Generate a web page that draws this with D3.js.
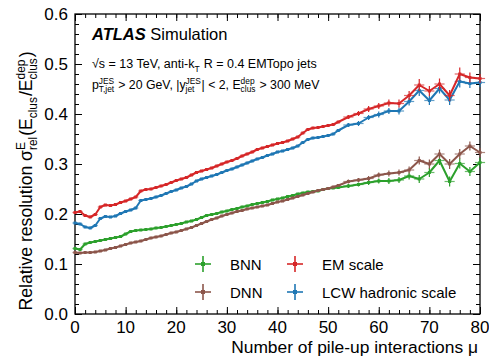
<!DOCTYPE html>
<html>
<head>
<meta charset="utf-8">
<script src="https://cdn.jsdelivr.net/npm/d3@7"></script>
<style>
  body { margin: 0; background: #fff; }
  svg text { font-family: "Liberation Sans", Arial, sans-serif; fill: #000; white-space: pre; }
</style>
</head>
<body>
<svg id="chart"></svg>
<script>
(function(){
    "use strict";

    // pile-up bins (1 wide up to 52, then 2 wide)
    var mu = [0,1,2,3,4,5,6,7,8,9,10,11,12,13,14,15,16,17,18,19,20,21,22,23,24,25,26,
        27,28,29,30,31,32,33,34,35,36,37,38,39,40,41,42,43,44,45,46,47,48,49,50,51,52,
        54,56,58,60,62,64,66,68,70,72,74,76,78,80];

    var emScale = [.203,.205,.197,.194,.199,.214,.218,.217,.219,.223,.226,.230,.234,.246,.249,.250,.253,.256,.259,.263,.267,.270,.273,.278,.283,.286,.289,
        .292,.296,.300,.304,.307,.311,.316,.320,.324,.329,.332,.335,.338,.341,.343,.346,.350,.354,.362,.369,.372,.373,.375,.377,.379,.384,
        .394,.401,.410,.416,.422,.421,.437,.458,.446,.460,.437,.480,.473,.471];

    var lcwScale = [.182,.180,.174,.172,.177,.191,.195,.194,.196,.201,.205,.208,.212,.227,.229,.231,.234,.237,.241,.245,.248,.252,.255,.260,.266,.270,.273,
        .276,.279,.283,.287,.290,.294,.298,.302,.306,.310,.313,.317,.320,.324,.326,.329,.332,.336,.343,.349,.352,.353,.355,.357,.360,.367,
        .378,.381,.393,.399,.406,.406,.425,.447,.427,.451,.428,.465,.461,.463];

    var bnn = [.131,.129,.140,.143,.145,.147,.149,.151,.153,.155,.160,.165,.167,.168,.169,.170,.172,.173,.175,.177,.179,.181,.184,.186,.189,.193,.197,
        .199,.201,.204,.206,.209,.211,.214,.216,.219,.221,.223,.225,.228,.230,.232,.235,.237,.240,.242,.244,.245,.246,.249,.251,.252,.253,
        .256,.259,.263,.266,.266,.268,.276,.270,.283,.307,.265,.301,.285,.303];

    var dnn = [.123,.122,.123,.123,.124,.126,.128,.131,.133,.136,.139,.142,.144,.146,.149,.152,.154,.156,.159,.162,.164,.167,.170,.173,.177,.181,.185,
        .189,.192,.196,.199,.202,.205,.207,.210,.212,.214,.216,.218,.221,.224,.226,.229,.232,.235,.238,.241,.244,.247,.249,.251,.254,.257,
        .265,.268,.271,.278,.281,.283,.288,.307,.300,.320,.300,.320,.336,.323];

    // statistical uncertainties of the wide bins (mu = 54 ... 80)
    var emErr  = [.004,.005,.006,.006,.007,.008,.009,.012,.010,.011,.011,.013,.010,.009];
    var lcwErr = [.004,.005,.005,.006,.006,.007,.008,.011,.009,.010,.010,.012,.009,.009];
    var bnnErr = [.004,.004,.005,.005,.006,.006,.007,.008,.009,.009,.010,.010,.009,.009];
    var dnnErr = [.004,.004,.005,.005,.006,.006,.007,.008,.009,.009,.010,.010,.009,.009];

    var xTicks = [0,10,20,30,40,50,60,70,80];
    var yTicks = [0,0.1,0.2,0.3,0.4,0.5,0.6];

    var series = [
        {name: "BNN", values: bnn, err: bnnErr, color: "#2ca02c"},
        {name: "DNN", values: dnn, err: dnnErr, color: "#8c564b"},
        {name: "LCW hadronic scale", values: lcwScale, err: lcwErr, color: "#1f77b4"},
        {name: "EM scale", values: emScale, err: emErr, color: "#d62728"}
    ];

    var width = 489,
        height = 364,
        left = 75, right = 480, top = 14, bottom = 314;

    var svg = d3.select("svg#chart")
        .attr("width", width)
        .attr("height", height);

    var x = d3.scaleLinear().domain([0, 80]).range([left, right]);
    var y = d3.scaleLinear().domain([0, 0.6]).range([bottom, top]);

    // draws text made of plain pieces and stacked sup/sub pieces
    function richText(g, x0, y0, parts, size, anchor) {
        var grp = g.append("g");
        var cx = x0;
        parts.forEach(function(p) {
            if (typeof p === "string" || p.style) {
                var bi = p.style === "bi";
                var t = grp.append("text").attr("x", cx).attr("y", y0)
                    .style("font-size", size + "px")
                    .style("font-weight", bi ? "bold" : null)
                    .style("font-style", bi ? "italic" : null)
                    .text(typeof p === "string" ? p : p.text);
                cx += t.node().getComputedTextLength();
            } else {
                var s = size * 0.68, w = 0;
                if (p.sup) {
                    var a = grp.append("text").attr("x", cx).attr("y", y0 - size * 0.42)
                        .style("font-size", s + "px").text(p.sup);
                    w = Math.max(w, a.node().getComputedTextLength());
                }
                if (p.sub) {
                    var b = grp.append("text").attr("x", cx).attr("y", y0 + size * 0.28)
                        .style("font-size", s + "px").text(p.sub);
                    w = Math.max(w, b.node().getComputedTextLength());
                }
                cx += w + size * 0.05;
            }
        });
        var total = cx - x0;
        if (anchor === "middle") grp.attr("transform", "translate(" + (-total / 2) + ",0)");
        if (anchor === "end") grp.attr("transform", "translate(" + (-total) + ",0)");
        return grp;
    }

    // frame ticks (inside, mirrored)
    var xMinor = d3.range(0, 81, 2), yMinor = d3.range(0, 0.601, 0.02);
    function tickAxis(axis, scale, vals, size) {
        return axis(scale).tickValues(vals).tickSize(size).tickFormat("");
    }
    var axG = svg.append("g");
    axG.append("g").attr("transform", "translate(0," + bottom + ")").call(tickAxis(d3.axisBottom, x, xMinor, -4));
    axG.append("g").attr("transform", "translate(0," + bottom + ")").call(tickAxis(d3.axisBottom, x, xTicks, -7));
    axG.append("g").attr("transform", "translate(0," + top + ")").call(tickAxis(d3.axisTop, x, xMinor, -4));
    axG.append("g").attr("transform", "translate(0," + top + ")").call(tickAxis(d3.axisTop, x, xTicks, -7));
    axG.append("g").attr("transform", "translate(" + left + ",0)").call(tickAxis(d3.axisLeft, y, yMinor, -4));
    axG.append("g").attr("transform", "translate(" + left + ",0)").call(tickAxis(d3.axisLeft, y, yTicks, -7));
    axG.append("g").attr("transform", "translate(" + right + ",0)").call(tickAxis(d3.axisRight, y, yMinor, -4));
    axG.append("g").attr("transform", "translate(" + right + ",0)").call(tickAxis(d3.axisRight, y, yTicks, -7));
    axG.selectAll(".domain").remove();
    axG.selectAll("line").attr("stroke", "#000").attr("stroke-width", 1);

    svg.append("rect")
        .attr("x", left).attr("y", top)
        .attr("width", right - left).attr("height", bottom - top)
        .attr("fill", "none").attr("stroke", "#000").attr("stroke-width", 1.3);

    // tick labels
    svg.selectAll("text.xl").data(xTicks).enter().append("text")
        .attr("class", "xl")
        .attr("x", function(d) { return x(d); })
        .attr("y", 333)
        .attr("text-anchor", "middle")
        .style("font-size", "17px")
        .text(function(d) { return d; });

    svg.selectAll("text.yl").data(yTicks).enter().append("text")
        .attr("class", "yl")
        .attr("x", 68)
        .attr("y", function(d) { return y(d) + 6; })
        .attr("text-anchor", "end")
        .style("font-size", "17px")
        .text(function(d) { return d3.format(".1f")(d); });

    // axis titles
    svg.append("text")
        .attr("x", 478).attr("y", 353)
        .attr("text-anchor", "end")
        .style("font-size", "17.4px")
        .text("Number of pile-up interactions \u03bc");

    var yt = svg.append("g").attr("transform", "translate(32,181) rotate(-90)");
    richText(yt, 0, 0, ["Relative resolution \u03c3", {sup: "E", sub: "rel"},
        "(E", {sub: "clus"}, "/E", {sup: "dep", sub: "clus"}, ")"], 17.6, "middle");

    // data
    var plot = svg.append("g");
    var halfW = function(i) { return mu[i] <= 52 ? 0.5 : 1; };
    var errOf = function(s, i) { return mu[i] <= 52 ? 0.002 : s.err[i - 53]; };

    var line = d3.line()
        .x(function(d, i) { return x(mu[i]); })
        .y(function(d) { return y(d); });

    series.forEach(function(s) {
        var g = plot.append("g");
        g.append("path")
            .attr("d", line(s.values))
            .attr("fill", "none")
            .attr("stroke", s.color)
            .attr("stroke-width", 2)
            .attr("stroke-linejoin", "round");

        var pts = g.selectAll("g.pt").data(s.values).enter().append("g").attr("class", "pt");
        pts.append("line")
            .attr("x1", function(d, i) { return x(mu[i] - halfW(i)); })
            .attr("x2", function(d, i) { return x(mu[i] + halfW(i)); })
            .attr("y1", function(d) { return y(d); })
            .attr("y2", function(d) { return y(d); })
            .attr("stroke", s.color).attr("stroke-width", 1.2).attr("opacity", 0.7);
        pts.append("line")
            .attr("x1", function(d, i) { return x(mu[i]); })
            .attr("x2", function(d, i) { return x(mu[i]); })
            .attr("y1", function(d, i) { return y(d - errOf(s, i)); })
            .attr("y2", function(d, i) { return y(d + errOf(s, i)); })
            .attr("stroke", s.color).attr("stroke-width", 1.2);
        pts.append("rect")
            .attr("x", function(d, i) { return x(mu[i]) - 1.5; })
            .attr("y", function(d) { return y(d) - 1.5; })
            .attr("width", 3).attr("height", 3)
            .attr("fill", s.color);
    });

    // labels
    richText(svg, 92, 40, [{text: "ATLAS", style: "bi"}, {text: " Simulation", style: "n"}], 16.5, "start");
    richText(svg, 92, 68, ["\u221as = 13 TeV, anti-k", {sub: "T"}, " R = 0.4 EMTopo jets"], 12.5, "start");
    richText(svg, 92, 89, ["p", {sup: "JES", sub: "T,jet"}, " > 20 GeV, |y", {sup: "JES", sub: "jet"},
        "| < 2, E", {sup: "dep", sub: "clus"}, " > 300 MeV"], 12.3, "start");

    // legend
    var legendItems = [
        {s: series[0], lx: 203, ly: 264},
        {s: series[1], lx: 203, ly: 292},
        {s: series[3], lx: 295, ly: 264},
        {s: series[2], lx: 295, ly: 292}
    ];
    legendItems.forEach(function(it) {
        var g = svg.append("g");
        g.append("line").attr("x1", it.lx - 8).attr("x2", it.lx + 8)
            .attr("y1", it.ly).attr("y2", it.ly)
            .attr("stroke", it.s.color).attr("stroke-width", 1.6);
        g.append("line").attr("x1", it.lx).attr("x2", it.lx)
            .attr("y1", it.ly - 8).attr("y2", it.ly + 8)
            .attr("stroke", it.s.color).attr("stroke-width", 1.6);
        g.append("rect").attr("x", it.lx - 2).attr("y", it.ly - 2)
            .attr("width", 4).attr("height", 4).attr("fill", it.s.color);
        g.append("text").attr("x", it.lx + 27).attr("y", it.ly + 5.5)
            .style("font-size", "15px").text(it.s.name);
    });
})();
</script>
</body>
</html>
